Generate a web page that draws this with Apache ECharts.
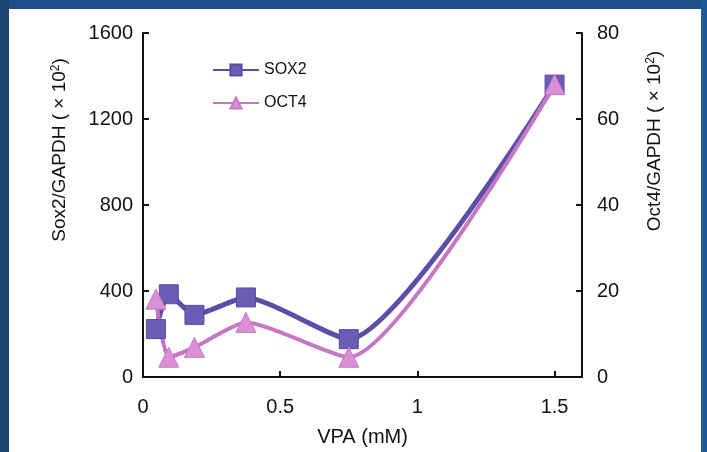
<!DOCTYPE html>
<html><head><meta charset="utf-8">
<script src="https://cdn.jsdelivr.net/npm/echarts@6/dist/echarts.min.js"></script>
<style>html,body{margin:0;padding:0;background:#fff}#c{width:707px;height:452px}</style>
</head><body><div id="c"></div>
<script>
var vpa = [0.047, 0.094, 0.1875, 0.375, 0.75, 1.5];
var sox2 = [223, 385, 289, 370, 176, 1360];
var oct4 = [18.1, 4.6, 6.9, 12.7, 4.6, 68];
var xTicks = [0, 0.5, 1, 1.5];
var leftTicks = [0, 400, 800, 1200, 1600];
var rightTicks = [0, 20, 40, 60, 80];
var xName = 'VPA (mM)';
var leftName = 'Sox2/GAPDH ( × 10';
var rightName = 'Oct4/GAPDH ( × 10';

var chart = echarts.init(document.getElementById('c'));
var font = 'Liberation Sans, Arial, sans-serif';
function pairs(xs, ys){ return xs.map(function(x,i){return [x, ys[i]];}); }
function axisTitle(txt, x, y){
  return {type:'text', x:x, y:y, rotation: Math.PI/2,
    style:{text:'{a|' + txt + '}{s|2}{a|)}', align:'center', verticalAlign:'middle',
      rich:{a:{fontFamily:font, fontSize:19, fill:'#111'},
            s:{fontFamily:font, fontSize:12, fill:'#111', verticalAlign:'top', padding:[0,0,8,0]}}}};
}
chart.setOption({
  animation: false,
  backgroundColor: '#fff',
  graphic: [
    {type:'rect', shape:{x:0,y:0,width:707,height:9}, style:{fill:'#1d4f86'}},
    {type:'rect', shape:{x:0,y:0,width:9,height:452}, style:{fill:'#1c4470'}},
    {type:'rect', shape:{x:701,y:0,width:6,height:452}, style:{fill:'#1f5a98'}},
    axisTitle(leftName, 60, 150),
    axisTitle(rightName, 655, 141)
  ],
  grid: {left: 143, right: 125, top: 33, bottom: 74},
  legend: {
    left: 207, top: 57, orient: 'vertical', itemGap: 17,
    itemWidth: 46, itemHeight: 14,
    textStyle: {fontFamily: font, fontSize: 16, color: '#111'},
    data: ['SOX2', 'OCT4']
  },
  xAxis: {
    type: 'value', min: 0, max: 1.6, interval: 0.5,
    name: xName, nameLocation: 'middle', nameGap: 50,
    nameTextStyle: {fontFamily: font, fontSize: 20, color: '#111'},
    axisLine: {lineStyle: {color: '#111', width: 2}},
    axisTick: {inside: true, length: 6, lineStyle: {color: '#111', width: 2}},
    splitLine: {show: false},
    axisLabel: {fontFamily: font, fontSize: 20, color: '#111', margin: 20,
      formatter: function(v){ return xTicks.indexOf(v) >= 0 ? String(v) : ''; }}
  },
  yAxis: [{
    type: 'value', min: 0, max: 1600, interval: 400, position: 'left',
    axisLine: {show: true, lineStyle: {color: '#111', width: 2}},
    axisTick: {show: true, inside: true, length: 6, lineStyle: {color: '#111', width: 2}},
    splitLine: {show: false},
    axisLabel: {fontFamily: font, fontSize: 20, color: '#111', margin: 10,
      formatter: function(v){ return leftTicks.indexOf(v) >= 0 ? String(v) : ''; }}
  }, {
    type: 'value', min: 0, max: 80, interval: 20, position: 'right',
    axisLine: {show: true, lineStyle: {color: '#111', width: 2}},
    axisTick: {show: true, inside: true, length: 6, lineStyle: {color: '#111', width: 2}},
    splitLine: {show: false},
    axisLabel: {fontFamily: font, fontSize: 20, color: '#111', margin: 15,
      formatter: function(v){ return rightTicks.indexOf(v) >= 0 ? String(v) : ''; }}
  }],
  series: [{
    name: 'SOX2', type: 'line', yAxisIndex: 0, smooth: 0.2,
    data: pairs(vpa, sox2),
    symbol: 'rect', symbolSize: 19,
    lineStyle: {color: '#5b4ea8', width: 5},
    itemStyle: {color: '#6d5cb6', borderColor: '#5a4aa6', borderWidth: 1}
  }, {
    name: 'OCT4', type: 'line', yAxisIndex: 1, smooth: 0.2,
    data: pairs(vpa, oct4),
    symbol: 'triangle', symbolSize: 20,
    lineStyle: {color: '#c676c4', width: 4},
    itemStyle: {color: '#d990d4', borderColor: '#c878c6', borderWidth: 1}
  }]
});
</script></body></html>
